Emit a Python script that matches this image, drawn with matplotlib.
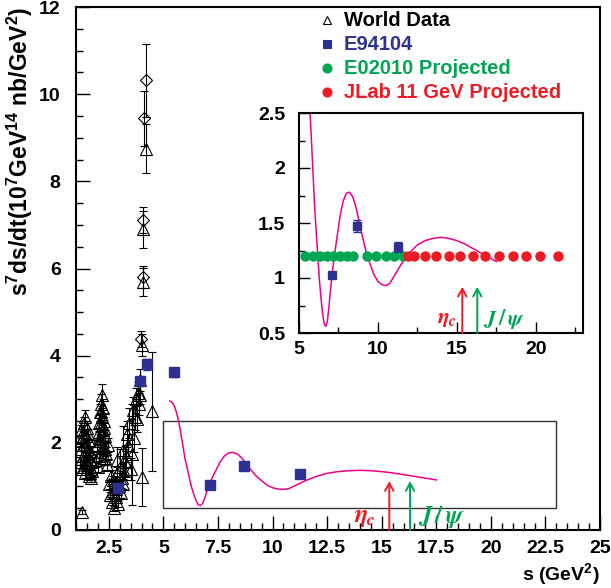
import numpy as np
import matplotlib
matplotlib.use("Agg")
import matplotlib.pyplot as plt
from matplotlib.patches import Rectangle
from matplotlib.ticker import MultipleLocator, FuncFormatter

plt.rcParams.update({
    "font.family": ["Liberation Sans", "DejaVu Sans"],
    "font.weight": "bold",
    "mathtext.fontset": "custom",
    "mathtext.rm": "Liberation Sans:bold",
    "mathtext.it": "Liberation Sans:bold:italic",
    "mathtext.bf": "Liberation Sans:bold",
})

BLUE, GREEN, RED, PINK = "#2e3192", "#00a651", "#ed1c24", "#ec008c"

# ---- world data (open triangles) ------------------------------------------
wd_s = [1.26, 1.20, 1.22, 1.25, 1.28, 1.30, 1.32, 1.35, 1.38, 1.40, 1.42, 1.45,
        1.48, 1.50, 1.52, 1.55, 1.58, 1.60, 1.62, 1.65, 1.68, 1.70, 1.72, 1.75,
        1.24, 1.34, 1.44, 1.54, 1.64, 1.36, 1.46, 1.56,
        1.90, 1.95, 2.00, 2.02, 2.05, 2.08, 2.10, 2.12, 2.15, 2.18, 2.20, 2.22,
        2.25, 2.28, 2.30, 2.32, 2.35, 2.38, 2.42, 2.45,
        2.06, 2.14, 2.24, 2.16, 2.26, 2.04, 2.34,
        2.50, 2.55, 2.60, 2.65, 2.70, 2.75, 2.78, 2.82, 2.87, 2.88, 2.92, 2.95,
        3.00, 3.05, 3.10, 3.15, 3.17, 3.20, 3.25, 2.68, 2.85,
        3.30, 3.35, 3.40, 3.45, 3.50, 3.55, 3.60, 3.65, 3.70, 3.75, 3.80, 3.85,
        3.88, 3.92, 3.95, 4.02, 4.01, 4.47, 4.05, 4.08, 4.20]
wd_y = [0.42, 1.55, 1.85, 2.05, 1.40, 2.25, 1.70, 2.45, 1.95, 2.60, 1.30, 2.15,
        1.75, 2.35, 1.50, 1.90, 1.25, 2.05, 1.60, 1.80, 1.40, 1.20, 1.55, 1.35,
        2.30, 2.15, 1.60, 2.20, 1.30, 1.45, 1.95, 1.70,
        1.60, 1.95, 2.20, 1.45, 2.45, 1.80, 2.70, 2.05, 2.90, 3.10, 2.60, 2.30,
        2.80, 1.90, 2.50, 1.65, 2.15, 1.75, 1.50, 1.95,
        2.10, 2.45, 2.05, 2.70, 2.35, 1.70, 1.85,
        1.05, 0.80, 1.25, 0.65, 0.90, 0.50, 1.10, 0.75, 1.60, 1.30, 0.60, 1.00,
        1.45, 0.85, 1.20, 1.05, 1.83, 1.35, 1.55, 1.15, 0.95,
        1.70, 2.20, 1.95, 2.45, 1.40, 1.74, 2.75, 2.10, 2.60, 3.00, 2.55, 3.15,
        2.90, 3.10, 3.45, 4.25, 1.22, 2.72, 5.70, 6.90, 8.75]
wd_err = [0.05, 0.12, 0.12, 0.12, 0.10, 0.15, 0.12, 0.15, 0.12, 0.15, 0.10, 0.15,
          0.12, 0.15, 0.10, 0.12, 0.10, 0.15, 0.12, 0.12, 0.10, 0.10, 0.12, 0.10,
          0.12, 0.12, 0.10, 0.12, 0.10, 0.10, 0.12, 0.10,
          0.15, 0.15, 0.15, 0.12, 0.18, 0.15, 0.20, 0.15, 0.22, 0.25, 0.20, 0.18,
          0.20, 0.15, 0.18, 0.15, 0.15, 0.15, 0.12, 0.15,
          0.15, 0.18, 0.15, 0.20, 0.18, 0.12, 0.15,
          0.10, 0.08, 0.12, 0.08, 0.10, 0.06, 0.12, 0.08, 0.30, 0.15, 0.08, 0.12,
          0.40, 0.12, 0.15, 0.12, 0.55, 0.20, 0.30, 0.10, 0.10,
          0.25, 0.30, 0.25, 0.35, 0.25, 1.16, 0.30, 0.30, 0.30, 0.25, 0.30, 0.25,
          0.25, 0.20, 0.25, 0.25, 0.66, 1.37, 0.32, 0.42, 0.57]

# ---- world data (open diamonds) -------------------------------------------
dm_s = [3.98, 4.05, 4.08, 4.10, 4.20]
dm_y = [4.38, 5.80, 7.11, 9.45, 10.32]
dm_err = [0.18, 0.25, 0.30, 0.63, 0.84]

# ---- E94104 ---------------------------------------------------------------
e94_s = [2.93, 3.95, 4.26, 5.50, 7.12, 8.70, 11.27]
e94_y = [0.96, 3.42, 3.80, 3.62, 1.03, 1.47, 1.28]
e94_err = [0.05, 0.10, 0.12, 0.10, 0.02, 0.055, 0.045]

# ---- projections (inset) --------------------------------------------------
e02_s = [5.38, 5.87, 6.33, 6.76, 7.18, 7.60, 8.03, 8.45, 9.30, 9.89, 10.50,
         11.05, 11.62]
jlab_s = [11.94, 12.30, 13.00, 13.70, 14.48, 15.22, 16.03, 16.81, 17.65,
          18.54, 19.39, 20.30, 21.40]
proj_y = 1.2

# ---- model curve ----------------------------------------------------------
curve_s = [5.30, 5.40, 5.50, 5.60, 5.70, 5.80, 5.90, 6.00, 6.10, 6.20, 6.30,
           6.40, 6.50, 6.60, 6.70, 6.80, 6.90, 7.00, 7.20, 7.40, 7.60, 7.80,
           8.00, 8.20, 8.40, 8.60, 8.80, 9.00, 9.25, 9.50, 9.75, 10.00, 10.25,
           10.50, 10.75, 11.00, 11.25, 11.50, 11.75, 12.00, 12.50, 13.00,
           13.50, 14.00, 14.50, 15.00, 15.50, 16.00, 16.50, 17.00, 17.50]
curve_y = [2.96, 2.93, 2.85, 2.70, 2.50, 2.22, 1.92, 1.62, 1.40, 1.18, 0.97,
           0.81, 0.67, 0.58, 0.56, 0.61, 0.74, 0.90, 1.16, 1.36, 1.56, 1.70,
           1.77, 1.78, 1.74, 1.65, 1.52, 1.39, 1.24, 1.13, 1.03, 0.97, 0.94,
           0.93, 0.95, 1.01, 1.07, 1.13, 1.18, 1.23, 1.30, 1.34, 1.36, 1.37,
           1.36, 1.34, 1.31, 1.27, 1.23, 1.19, 1.15]

# thresholds
eta_c, jpsi = 15.35, 16.30

fmt = FuncFormatter(lambda v, p: f"{v:g}")

fig = plt.figure(figsize=(6.11, 5.88), dpi=100)
ax = fig.add_axes([76 / 611, 58 / 588, 524 / 611, 523 / 588])

ax.errorbar(wd_s, wd_y, yerr=wd_err, fmt="^", ms=8.5, mfc="none", mec="black",
            mew=0.8, ecolor="black", elinewidth=0.8, capsize=3, capthick=0.8)
ax.errorbar(dm_s, dm_y, yerr=dm_err, fmt="D", ms=6, mfc="none", mec="black",
            mew=0.8, ecolor="black", elinewidth=0.8, capsize=3, capthick=0.8)
ax.errorbar(e94_s, e94_y, yerr=e94_err, fmt="s", ms=6.5, color=BLUE,
            ecolor=BLUE, elinewidth=1, capsize=3)
ax.plot(curve_s, curve_y, color=PINK, lw=1.1)
ax.add_patch(Rectangle((5, 0.5), 18, 2, fill=False, lw=1, ec="#333333"))

arw = "->,head_length=0.55,head_width=0.3"
ax.annotate("", xy=(eta_c, 1.12), xytext=(eta_c, 0),
            arrowprops=dict(arrowstyle=arw, color=RED, lw=1.4, shrinkA=0, shrinkB=0))
ax.annotate("", xy=(jpsi, 1.12), xytext=(jpsi, 0),
            arrowprops=dict(arrowstyle=arw, color=GREEN, lw=1.4, shrinkA=0, shrinkB=0))
ax.text(14.2, 0.3, r"$\eta_c$", color=RED, fontsize=18, ha="center",
        va="center", fontweight="normal", math_fontfamily="stix")
ax.text(17.75, 0.3, r"$J\,/\,\psi$", color=GREEN, fontsize=18, ha="center",
        va="center", fontweight="normal", math_fontfamily="stix")

ax.set_xlim(1, 25)
ax.set_ylim(0, 12)
ax.xaxis.set_major_locator(MultipleLocator(2.5))
ax.xaxis.set_minor_locator(MultipleLocator(0.5))
ax.yaxis.set_major_locator(MultipleLocator(2))
ax.yaxis.set_minor_locator(MultipleLocator(0.5))
ax.xaxis.set_major_formatter(fmt)
ax.tick_params(which="both", direction="in", labelsize=14, width=1)
ax.tick_params(which="major", length=10)
ax.tick_params(axis="y", which="major", pad=11)
ax.tick_params(axis="x", which="major", pad=7)
ax.tick_params(which="minor", length=5)
for sp in ax.spines.values():
    sp.set_linewidth(1.5)
ax.set_ylabel(r"s$^{\mathrm{7}}$ds/dt(10$^{\mathrm{7}}$GeV$^{\mathrm{14}}$ "
              r"nb/GeV$^{\mathrm{2}}$)", fontsize=16.5,
              fontweight="bold", loc="top", labelpad=3)
ax.set_xlabel(r"s (GeV$^{\mathrm{2}}$)", fontsize=14, fontweight="bold",
              loc="right", labelpad=3)

# legend
leg_labels = ["World Data", "E94104", "E02010 Projected", "JLab 11 GeV Projected"]
leg_colors = ["black", BLUE, GREEN, RED]
leg_marks = [("^", "none", 6), ("s", BLUE, 6), ("o", GREEN, 6.5), ("o", RED, 6.5)]
for i, (lab, col, (mk, fc, ms)) in enumerate(zip(leg_labels, leg_colors, leg_marks)):
    yy = 0.975 - i * 0.046
    ax.plot([0.479], [yy], marker=mk, ms=ms, mfc=fc, mec=col, mew=0.8,
            transform=ax.transAxes, clip_on=False, ls="none")
    ax.text(0.511, yy, lab, color=col, fontsize=14.5, fontweight="bold",
            va="center", ha="left", transform=ax.transAxes)

# ---- inset ----------------------------------------------------------------
ins = fig.add_axes([299 / 611, 255 / 588, 284 / 611, 220 / 588])
ins.plot(curve_s, curve_y, color=PINK, lw=1.1)
ins.plot(e02_s, [proj_y] * len(e02_s), "o", color=GREEN, ms=7.5, mec="none")
ins.plot(jlab_s, [proj_y] * len(jlab_s), "o", color=RED, ms=7.5, mec="none")
ins.errorbar(e94_s, e94_y, yerr=e94_err, fmt="s", ms=6, color=BLUE,
             ecolor=BLUE, elinewidth=1, capsize=3)
ins.annotate("", xy=(eta_c, 0.92), xytext=(eta_c, 0.5),
             arrowprops=dict(arrowstyle=arw, color=RED, lw=1.4, shrinkA=0, shrinkB=0))
ins.annotate("", xy=(jpsi, 0.92), xytext=(jpsi, 0.5),
             arrowprops=dict(arrowstyle=arw, color=GREEN, lw=1.4, shrinkA=0, shrinkB=0))
ins.text(14.35, 0.63, r"$\eta_c$", color=RED, fontsize=16, ha="center",
         va="center", fontweight="normal", math_fontfamily="stix")
ins.text(18.0, 0.63, r"$J\,/\,\psi$", color=GREEN, fontsize=16, ha="center",
         va="center", fontweight="normal", math_fontfamily="stix")
ins.set_xlim(5, 23)
ins.set_ylim(0.5, 2.5)
ins.xaxis.set_major_locator(MultipleLocator(5))
ins.xaxis.set_minor_locator(MultipleLocator(2.5))
ins.yaxis.set_major_locator(MultipleLocator(0.5))
ins.yaxis.set_minor_locator(MultipleLocator(0.25))
ins.xaxis.set_major_formatter(fmt)
ins.yaxis.set_major_formatter(fmt)
ins.tick_params(which="both", direction="in", labelsize=14, width=1)
ins.tick_params(which="major", length=8)
ins.tick_params(axis="y", which="major", pad=10)
ins.tick_params(axis="x", which="major", pad=6)
ins.tick_params(which="minor", length=4)
for sp in ins.spines.values():
    sp.set_linewidth(1.5)

fig.savefig("out.png", dpi=100)
